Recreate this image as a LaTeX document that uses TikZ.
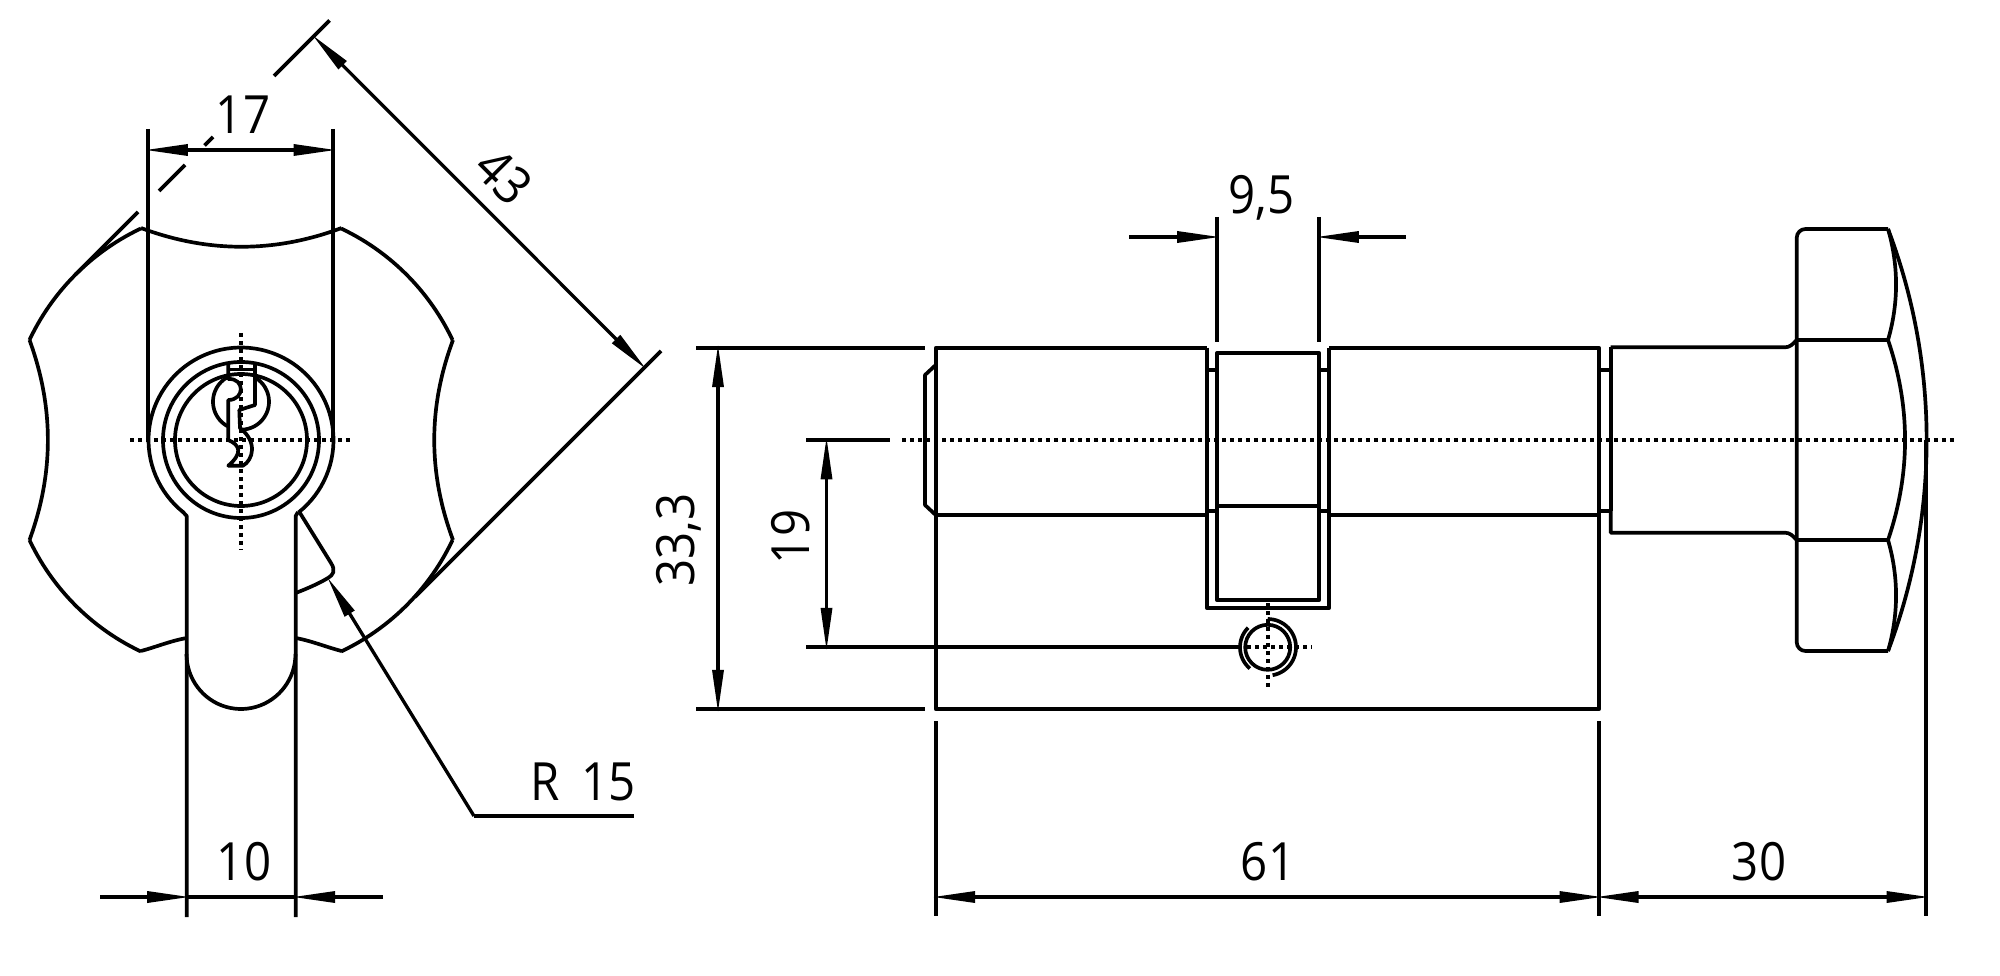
\documentclass[tikz,border=0pt]{standalone}
\usepackage{fontspec}
\setmainfont[FakeStretch=0.9]{Open Sans}
\usetikzlibrary{arrows.meta}
\tikzset{
    outline/.style={line width=2.1pt, line join=round},
    dimline/.style={line width=1.9pt, >={Triangle[length=0.86cm, width=0.22cm, sep=-0.07cm]}},
    centerline/.style={line width=2.2pt, dash pattern=on 0.08cm off 0.08cm},
    dimlabel/.style={font=\fontsize{30}{30}\selectfont, inner sep=0pt}
}

\begin{document}
\begin{tikzpicture}[x=0.02cm, y=-0.02cm]
    \useasboundingbox (0,0) rectangle (2000,976);

    % Knob seen from the front: four lobes
    \foreach \a/\b in {115.3/154.7, 25.3/64.7, 205.3/244.7, 295.3/334.7} {
        \draw[outline] plot[domain=\a:\b, samples=40] ({241+234*cos(\x)}, {440-234*sin(\x)});
    }
    % Concave flanks between the lobes
    \draw[outline] (141,228) .. controls (208,253) and (275,253) .. (341.5,228);
    \draw[outline] (29.5,340) .. controls (54,407) and (54,473) .. (29.5,540);
    \draw[outline] (453,340) .. controls (428,407) and (428,473) .. (453,540);
    \draw[outline] (141,651) .. controls (156,647) and (170,641) .. (186.7,638);
    \draw[outline] (341.5,651) .. controls (326,647) and (312,641) .. (295.7,638);

    % Cylinder profile
    \coordinate (keycentre) at (241,440);
    \draw[outline] plot[domain=-51.6:231.6, samples=80] ({241+92.5*cos(\x)}, {440-92.5*sin(\x)});
    \draw[outline] (keycentre) circle (78);
    \draw[outline] (keycentre) circle (66);
    \draw[outline] (183,512) -- (186.7,516) -- (186.7,917);
    \draw[outline] (298,512) -- (295.7,516) -- (295.7,917);
    \draw[outline] plot[domain=180:360, samples=40] ({241+54.5*cos(\x)}, {654-55*sin(\x)});

    % Keyway
    \draw[outline] (228.3,363.3) -- (228.3,379) .. controls (245,378) and (245,400) .. (228.3,400)
        -- (228.3,440) .. controls (240,445) and (243,453) .. (228.3,465.7) -- (243,465.7)
        .. controls (253,460) and (258,442) .. (240,428) -- (239.3,410) -- (255,405) -- (255,363.3);
    \draw[outline] (228.3,369.5) -- (255,369.5);
    \draw[outline] plot[domain=119:241, samples=30] ({241+28*cos(\x)}, {401.7-28*sin(\x)});
    \draw[outline] plot[domain=-90:60, samples=30] ({241+28*cos(\x)}, {401.7-28*sin(\x)});

    % Small lobe next to the stem
    \draw[outline] (300,513) -- (331,563) .. controls (336,571) and (333,575) .. (328,578)
        .. controls (318,584) and (306,589) .. (295.7,593);

    % Centre lines of the front view
    \draw[centerline] (130,440) -- (350,440);
    \draw[centerline] (241,333) -- (241,550);

    % Width 17
    \coordinate (widthl) at (148.3,150);
    \coordinate (widthr) at (333,150);
    \draw[outline] (148.3,129) -- (148.3,440);
    \draw[outline] (333,129) -- (333,440);
    \draw[dimline, <->] (widthl) -- (widthr);
    \node[dimlabel] (labelwidth) at (243,115) {17};

    % Across the lobes 43
    \coordinate (acrossa) at (314.7,37.3);
    \coordinate (acrossb) at (644,367);
    \draw[outline] (75.5,274.5) -- (138,212);
    \draw[outline] (159,191) -- (185,165);
    \draw[outline] (204.5,145.5) -- (213,137);
    \draw[outline] (274,76) -- (329.5,20.5);
    \draw[outline] (415,597) -- (661,351);
    \draw[dimline, <->] (acrossa) -- (acrossb);
    \node[dimlabel, rotate=-45] (labelacross) at (504,176) {43};

    % Stem 10
    \coordinate (stemoutl) at (100,897);
    \coordinate (steml) at (186.7,897);
    \coordinate (stemr) at (295.7,897);
    \coordinate (stemoutr) at (383,897);
    \draw[dimline, ->] (stemoutl) -- (steml);
    \draw[dimline, ->] (stemoutr) -- (stemr);
    \draw[dimline] (steml) -- (stemr);
    \node[dimlabel] (labelstem) at (244,862) {10};

    % Radius leader
    \coordinate (radiustip) at (329,580);
    \coordinate (radiusknee) at (474,816);
    \coordinate (radiusend) at (634,816);
    \draw[dimline, <-] (radiustip) -- (radiusknee);
    \draw[dimline] (radiusknee) -- (radiusend);
    \node[dimlabel, anchor=south east] (labelradius) at (636,801) {R\, 15};

    % Side view: cylinder body
    \draw[outline] (1206.7,347.7) -- (935.7,347.7) -- (935.7,709.3) -- (1599,709.3) -- (1599,347.7) -- (1329.3,347.7);
    \draw[outline] (935.7,515) -- (1206.7,515);
    \draw[outline] (1329.3,515) -- (1599,515);
    \draw[outline] (935.7,365) -- (925,375) -- (925,505) -- (935.7,515);
    \draw[outline] (1206.7,347.7) -- (1206.7,608) -- (1329.3,608) -- (1329.3,347.7);

    % Cam
    \draw[outline] (1216.7,353.3) rectangle (1319.3,600);
    \draw[outline] (1216.7,505.7) -- (1319.3,505.7);
    \foreach \y in {370, 510.7} {
        \draw[outline] (1206.7,\y) -- (1216.7,\y);
        \draw[outline] (1319.3,\y) -- (1329.3,\y);
        \draw[outline] (1599,\y) -- (1610.7,\y);
    }

    % Fixing hole
    \coordinate (holecentre) at (1267.7,647.3);
    \draw[outline] (holecentre) circle (22.5);
    \draw[outline] plot[domain=-80:90, samples=30] ({1267.7+28.3*cos(\x)}, {647.3-28.3*sin(\x)});
    \draw[outline] plot[domain=135:230, samples=20] ({1267.7+27.7*cos(\x)}, {647.3-27.7*sin(\x)});
    \draw[centerline] (1247,647.3) -- (1312,647.3);
    \draw[centerline] (1267.7,603) -- (1267.7,690);

    % Thumb turn
    \draw[outline] (1610.7,510.7) -- (1610.7,347.3);
    \draw[outline] (1610.7,347.3) -- (1785,347.3) .. controls (1790,347.3) and (1793,344) .. (1796.7,340);
    \draw[outline] (1610.7,510.7) -- (1610.7,532.7) -- (1785,532.7) .. controls (1790,532.7) and (1793,536) .. (1796.7,540);
    \draw[outline, rounded corners=5pt] (1888,229) -- (1796.7,229) -- (1796.7,651) -- (1888,651);
    \draw[outline] (1796.7,340) -- (1888,340);
    \draw[outline] (1796.7,540) -- (1888,540);
    \draw[outline] (1888,229) .. controls (1898.7,266) and (1898.7,303) .. (1888,340);
    \draw[outline] (1888,340) .. controls (1910.7,406.7) and (1910.7,473.3) .. (1888,540);
    \draw[outline] (1888,540) .. controls (1898.7,577) and (1898.7,614) .. (1888,651);
    \draw[outline] (1888,229) .. controls (1939.5,364.6) and (1939.5,515.4) .. (1888,651);

    % Main centre line
    \draw[centerline] (902,440) -- (1955,440);

    % Cam width 9,5
    \coordinate (camoutl) at (1129,237);
    \coordinate (caml) at (1216.7,237);
    \coordinate (camr) at (1319.3,237);
    \coordinate (camoutr) at (1405.6,237);
    \draw[outline] (1216.7,217) -- (1216.7,342);
    \draw[outline] (1319.3,217) -- (1319.3,342);
    \draw[dimline, ->] (camoutl) -- (caml);
    \draw[dimline, ->] (camoutr) -- (camr);
    \node[dimlabel] (labelcam) at (1261.5,198) {9,5};

    % Height 33,3
    \coordinate (heighta) at (718,347.7);
    \coordinate (heightb) at (718,709.3);
    \draw[outline] (696,347.7) -- (925,347.7);
    \draw[outline] (696,709.3) -- (925,709.3);
    \draw[dimline, <->] (heighta) -- (heightb);
    \node[dimlabel, rotate=90] (labelheight) at (678.6,540) {33,3};

    % Distance 19
    \coordinate (distancea) at (826.5,440);
    \coordinate (distanceb) at (826.5,647.3);
    \draw[outline] (806,440) -- (890,440);
    \draw[outline] (806,647.3) -- (1240,647.3);
    \draw[dimline, <->] (distancea) -- (distanceb);
    \node[dimlabel, rotate=90] (labeldistance) at (791,537) {19};

    % Lengths 61 and 30
    \coordinate (lengtha) at (935.7,897);
    \coordinate (lengthb) at (1599,897);
    \coordinate (lengthc) at (1926,897);
    \foreach \x in {935.7, 1599} {
        \draw[outline] (\x,721) -- (\x,916);
    }
    \draw[outline] (1926,440) -- (1926,916);
    \draw[dimline, <->] (lengtha) -- (lengthb);
    \draw[dimline, <->] (lengthb) -- (lengthc);
    \node[dimlabel] (labellength) at (1268,862) {61};
    \node[dimlabel] (labelturn) at (1759,862) {30};
\end{tikzpicture}
\end{document}
